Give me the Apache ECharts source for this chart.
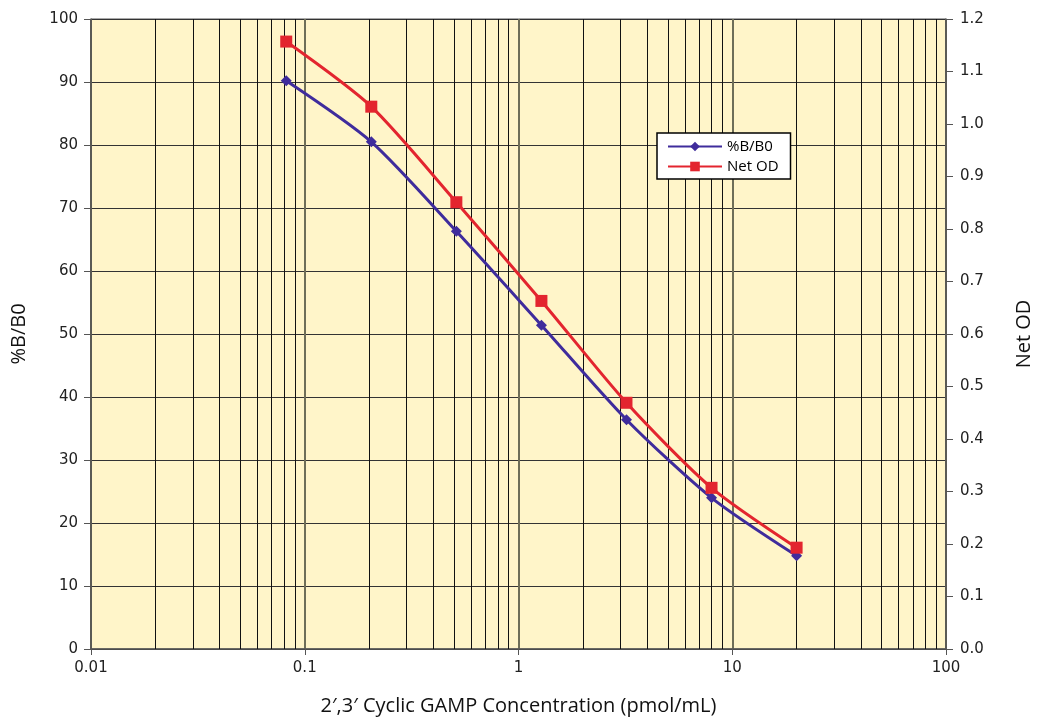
<!DOCTYPE html>
<html>
<head>
<meta charset="utf-8">
<script src="https://cdn.jsdelivr.net/npm/echarts@6/dist/echarts.min.js"></script>
<style>html,body{margin:0;padding:0;background:#fff}#c{width:1042px;height:721px}</style>
</head>
<body>
<div id="c"></div>
<script>
const concentrations = [0.08192, 0.2048, 0.512, 1.28, 3.2, 8, 20];
const pctBB0 = [90.2, 80.5, 66.3, 51.4, 36.4, 24.0, 14.8];
const netOD = [1.157, 1.033, 0.851, 0.663, 0.469, 0.307, 0.193];
const minorGridX = [0.02,0.03,0.04,0.05,0.06,0.07,0.08,0.09,0.2,0.3,0.4,0.5,0.6,0.7,0.8,0.9,2,3,4,5,6,7,8,9,20,30,40,50,60,70,80,90];
const xTickLabels = {0.01:'0.01',0.1:'0.1',1:'1',10:'10',100:'100'};

const chart = echarts.init(document.getElementById('c'));
const tickFont = 'DejaVu Sans';
const titleFont = '"Open Sans",sans-serif';
chart.setOption({
  animation: false,
  grid: {left: 91, right: 90, top: 19, bottom: 64, show: true, backgroundColor: '#FFF5C9', borderColor: '#555', borderWidth: 1},
  legend: {
    orient: 'vertical', left: 657, top: 133, backgroundColor: '#fff', borderColor: '#000', borderWidth: 1.5,
    padding: [6, 12, 5, 10], itemGap: 5, itemWidth: 54, itemHeight: 12,
    textStyle: {fontFamily: '"Liberation Sans Narrow","Open Sans",sans-serif', fontSize: 15, color: '#000'},
    data: ['%B/B0', 'Net OD']
  },
  xAxis: {
    type: 'log', logBase: 10, min: 0.01, max: 100,
    name: '2\u2032,3\u2032 Cyclic GAMP Concentration (pmol/mL)', nameLocation: 'middle', nameGap: 47,
    nameTextStyle: {fontFamily: titleFont, fontSize: 20, color: '#111'},
    axisLine: {show: true, onZero: false, lineStyle: {color: '#555', width: 1.5}},
    axisTick: {show: true, length: 6, lineStyle: {color: '#555'}},
    axisLabel: {fontFamily: tickFont, fontSize: 15, color: '#222', margin: 12,
      formatter: v => xTickLabels[+v.toPrecision(3)] || ''},
    splitLine: {show: true, lineStyle: {color: '#6e6e58', width: 2}}
  },
  yAxis: [{
    type: 'value', min: 0, max: 100, interval: 10, position: 'left',
    name: '%B/B0', nameLocation: 'middle', nameGap: 62, nameRotate: 90,
    nameTextStyle: {fontFamily: titleFont, fontSize: 20, color: '#111'},
    axisLine: {show: true, lineStyle: {color: '#555', width: 1.5}},
    axisTick: {show: true, length: 7, inside: false, lineStyle: {color: '#555'}},
    axisLabel: {fontFamily: tickFont, fontSize: 15, color: '#222', margin: 13},
    splitLine: {show: true, lineStyle: {color: '#333', width: 1}}
  }, {
    type: 'value', min: 0, max: 1.2, interval: 0.1, position: 'right',
    name: 'Net OD', nameLocation: 'middle', nameGap: 68, nameRotate: 90,
    nameTextStyle: {fontFamily: titleFont, fontSize: 20, color: '#111'},
    axisLine: {show: true, lineStyle: {color: '#555', width: 1.5}},
    axisTick: {show: true, length: 7, lineStyle: {color: '#555'}},
    axisLabel: {fontFamily: tickFont, fontSize: 15, color: '#222', margin: 14, formatter: v => v.toFixed(1)},
    splitLine: {show: false}
  }],
  series: [{
    name: '%B/B0', type: 'line', yAxisIndex: 0, smooth: 0.25,
    data: concentrations.map((c, i) => [c, pctBB0[i]]),
    symbol: 'diamond', symbolSize: 11,
    lineStyle: {color: '#3F2C9C', width: 3}, itemStyle: {color: '#3F2C9C'},
    z: 3,
    markLine: {
      silent: true, symbol: 'none', label: {show: false},
      lineStyle: {color: '#111', width: 1, type: 'solid'},
      data: minorGridX.map(v => ({xAxis: v})),
      z: 1
    }
  }, {
    name: 'Net OD', type: 'line', yAxisIndex: 1, smooth: 0.25,
    data: concentrations.map((c, i) => [c, netOD[i]]),
    symbol: 'rect', symbolSize: 12,
    lineStyle: {color: '#E3252F', width: 3}, itemStyle: {color: '#E3252F'},
    z: 4
  }]
});
</script>
</body>
</html>
